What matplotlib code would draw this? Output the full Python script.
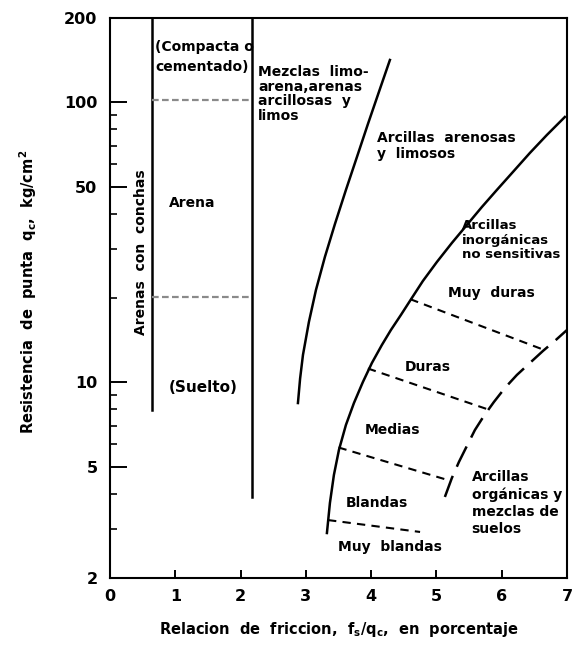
import numpy as np
import matplotlib.pyplot as plt
from matplotlib.ticker import FixedLocator, NullFormatter

plt.rcParams['font.family'] = ['DejaVu Sans']

# ejes
x_ticks = [0, 1, 2, 3, 4, 5, 6, 7]
y_ticks = [2, 5, 10, 50, 100, 200]
y_minor = [3, 4, 6, 7, 8, 9, 20, 30, 40, 60, 70, 80, 90]

# limites verticales de la zona de arenas
arena_izq_x = 0.64
arena_izq_y = [7.96, 200]
arena_der_x = 2.17
arena_der_y = [3.89, 200]
arena_hor_y = [101.9, 20.2]

# curva limite mezclas / arcillas arenosas
c1_x = [2.879, 2.912, 2.956, 3.047, 3.155, 3.292, 3.446, 3.614, 3.783, 3.951, 4.119, 4.288]
c1_y = [8.43, 10.3, 12.52, 16.42, 21.36, 28.03, 36.76, 48.62, 63.77, 83.61, 108.8, 141.6]

# curva limite arcillas arenosas / arcillas inorganicas
c2_x = [3.323, 3.369, 3.430, 3.507, 3.614, 3.737, 3.874, 4.012, 4.165, 4.303, 4.456,
        4.594, 4.793, 5.008, 5.237, 5.467, 5.697, 5.926, 6.172, 6.432, 6.692, 6.968]
c2_y = [2.895, 3.707, 4.666, 5.732, 7.039, 8.433, 10.02, 11.72, 13.59, 15.37, 17.39,
        19.51, 23.00, 26.90, 31.44, 36.46, 42.27, 48.62, 56.36, 65.91, 76.40, 88.61]

# curva de arcillas organicas (trazos largos)
c3_x = [5.130, 5.237, 5.345, 5.467, 5.590, 5.727, 5.881, 6.049, 6.233, 6.432, 6.631,
        6.830, 7.0]
c3_y = [3.894, 4.551, 5.192, 5.922, 6.753, 7.578, 8.503, 9.541, 10.62, 11.72, 12.93,
        14.16, 15.37]

# lineas de consistencia (x inicial, x final, y inicial, y final)
cons_x0 = [4.60, 3.95, 3.50, 3.34]
cons_x1 = [6.63, 5.79, 5.21, 4.75]
cons_y0 = [19.8, 11.2, 5.85, 3.22]
cons_y1 = [13.1, 8.0, 4.45, 2.92]

fig = plt.figure(figsize=(5.75, 6.61), dpi=100)
ax = fig.add_axes([0.1913, 0.1256, 0.7947, 0.8472])
ax.set_yscale('log')
ax.set_xlim(0, 7)
ax.set_ylim(2, 200)

lw = 1.8
ax.plot([arena_izq_x, arena_izq_x], arena_izq_y, color='black', lw=lw)
ax.plot([arena_der_x, arena_der_x], arena_der_y, color='black', lw=lw)
for yy in arena_hor_y:
    ax.plot([arena_izq_x, arena_der_x], [yy, yy], color='#8a8a8a', lw=1.6,
            linestyle=(0, (3, 1.5)))

ax.plot(c1_x, c1_y, color='black', lw=lw)
ax.plot(c2_x, c2_y, color='black', lw=lw)
ax.plot(c3_x, c3_y, color='black', lw=lw, linestyle=(0, (9, 4)))

for x0, x1, y0, y1 in zip(cons_x0, cons_x1, cons_y0, cons_y1):
    ax.plot([x0, x1], [y0, y1], color='black', lw=1.5, linestyle=(0, (4, 3)))

tf = dict(fontsize=10, fontweight='bold', color='black')
ax.text(0.69, 145, '(Compacta o\ncementado)', ha='left', va='center',
        linespacing=1.5, **tf)
ax.text(2.27, 107, 'Mezclas  limo-\narena,arenas\narcillosas  y\nlimos', ha='left',
        va='center', linespacing=1.05, **tf)
ax.text(4.09, 69.8, 'Arcillas  arenosas\ny  limosos', ha='left', va='center',
        linespacing=1.2, **tf)
ax.text(1.26, 43.7, 'Arena', ha='center', va='center', **tf)
ax.text(0.47, 29.2, 'Arenas  con  conchas', ha='center', va='center',
        rotation=90, **tf)
ax.text(1.43, 9.55, '(Suelto)', ha='center', va='center', fontsize=11,
        fontweight='bold')
ax.text(5.39, 32.2, 'Arcillas\ninorgánicas\nno sensitivas', ha='left',
        va='center', linespacing=1.12, fontsize=9.5, fontweight='bold')
ax.text(5.18, 20.8, 'Muy  duras', ha='left', va='center', **tf)
ax.text(4.87, 11.34, 'Duras', ha='center', va='center', **tf)
ax.text(4.33, 6.76, 'Medias', ha='center', va='center', **tf)
ax.text(4.09, 3.70, 'Blandas', ha='center', va='center', **tf)
ax.text(4.29, 2.58, 'Muy  blandas', ha='center', va='center', **tf)
ax.text(5.54, 3.71, 'Arcillas\norgánicas y\nmezclas de\nsuelos', ha='left',
        va='center', linespacing=1.3, **tf)

ax.yaxis.set_major_locator(FixedLocator(y_ticks))
ax.yaxis.set_minor_locator(FixedLocator(y_minor))
ax.yaxis.set_minor_formatter(NullFormatter())
ax.set_yticklabels([str(v) for v in y_ticks])
ax.set_xticks(x_ticks)
ax.set_xticklabels([str(v) for v in x_ticks])

ax.tick_params(axis='y', which='major', direction='in', length=12, width=1.4,
               labelsize=11.5, pad=9)
ax.tick_params(axis='y', which='minor', direction='in', length=5, width=1.2)
ax.tick_params(axis='x', which='major', direction='in', length=6, width=1.4,
               labelsize=11.5, pad=8)
for lab in ax.get_xticklabels() + ax.get_yticklabels():
    lab.set_fontweight('bold')

for s in ax.spines.values():
    s.set_linewidth(1.5)

ax.set_xlabel('Relacion  de  friccion,  f$_\\mathbf{s}$/q$_\\mathbf{c}$,  en  porcentaje',
              fontsize=10.5, fontweight='bold')
ax.set_ylabel('Resistencia  de  punta  q$_\\mathbf{c}$,  kg/cm$^\\mathbf{2}$',
              fontsize=10.5, fontweight='bold')
ax.xaxis.set_label_coords(0.5, -0.075)
ax.yaxis.set_label_coords(-0.155, 0.51)

fig.savefig('out.png', dpi=100)
